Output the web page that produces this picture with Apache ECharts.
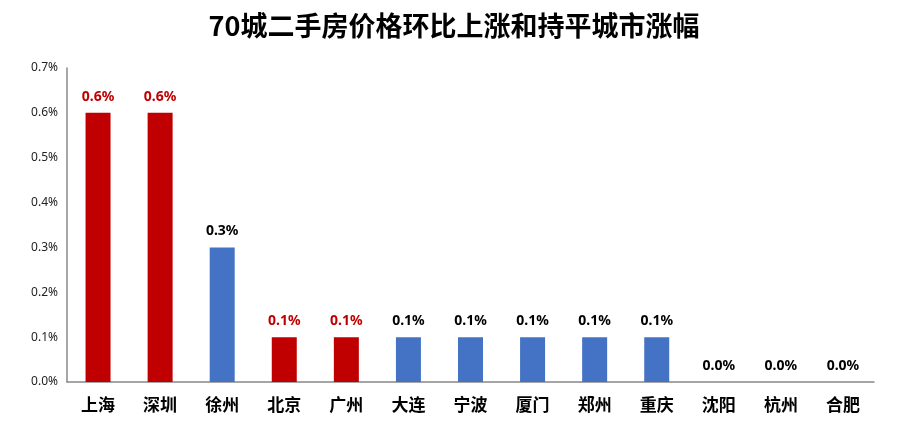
<!DOCTYPE html>
<html>
<head>
<meta charset="utf-8">
<script src="https://cdn.jsdelivr.net/npm/echarts@6/dist/echarts.min.js"></script>
<style>
  html, body { margin: 0; padding: 0; background: #fff; }
  #chart { width: 908px; height: 436px; }
</style>
</head>
<body>
<div id="chart"></div>
<script>
const cities = ["上海", "深圳", "徐州", "北京", "广州", "大连", "宁波", "厦门", "郑州", "重庆", "沈阳", "杭州", "合肥"];
const changes = [0.6, 0.6, 0.3, 0.1, 0.1, 0.1, 0.1, 0.1, 0.1, 0.1, 0.0, 0.0, 0.0];
// 红色 = 一线城市
const isTier1 = [true, true, false, true, true, false, false, false, false, false, false, false, false];
const yTicks = [0, 0.1, 0.2, 0.3, 0.4, 0.5, 0.6, 0.7];

const RED = "#C00000";
const BLUE = "#4472C4";

const chart = echarts.init(document.getElementById("chart"));
const option = {
  animation: false,
  title: {
    text: "70城二手房价格环比上涨和持平城市涨幅",
    left: "center",
    top: 7,
    textStyle: {
      fontFamily: "Noto Sans CJK SC",
      fontSize: 27,
      fontWeight: "bold",
      color: "#000"
    }
  },
  grid: { left: 67, right: 34, top: 68, bottom: 54 },
  xAxis: {
    type: "category",
    data: cities,
    axisLine: { lineStyle: { color: "#888", width: 1.5 } },
    axisTick: { show: false },
    axisLabel: {
      fontFamily: "Noto Sans CJK SC",
      fontSize: 17,
      fontWeight: "bold",
      color: "#000",
      margin: 14
    }
  },
  yAxis: {
    type: "value",
    min: yTicks[0],
    max: yTicks[yTicks.length - 1],
    interval: 0.1,
    splitLine: { show: false },
    axisLine: { show: true, lineStyle: { color: "#888", width: 1.5 } },
    axisTick: { show: false },
    axisLabel: {
      fontFamily: "Noto Sans",
      fontSize: 12,
      color: "#222",
      margin: 9,
      formatter: v => v.toFixed(1) + "%"
    }
  },
  series: [
    {
      type: "bar",
      barWidth: 25,
      data: changes.map((v, i) => ({
        value: v,
        itemStyle: { color: isTier1[i] ? RED : BLUE },
        label: { color: isTier1[i] ? RED : "#000" }
      })),
      label: {
        show: true,
        position: "top",
        distance: 9,
        fontFamily: "Noto Sans",
        fontSize: 14,
        fontWeight: "bold",
        formatter: p => p.value.toFixed(1) + "%"
      }
    }
  ]
};
chart.setOption(option);
</script>
</body>
</html>
